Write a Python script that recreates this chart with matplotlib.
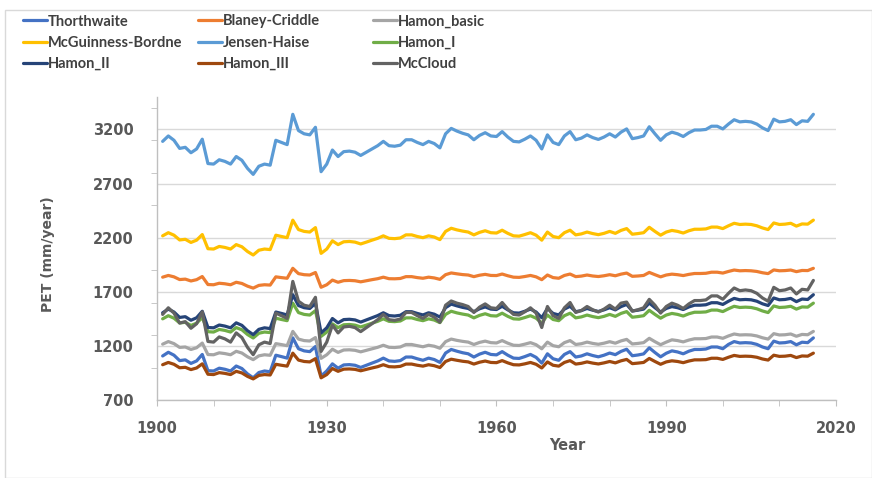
import matplotlib
matplotlib.use("Agg")
import matplotlib.pyplot as plt
from matplotlib.patches import Rectangle
from matplotlib.ticker import MultipleLocator, FixedLocator

# annual PET (mm/year), 1901-2016
years = list(range(1901, 2017))

thorthwaite = [
    1107, 1141, 1114, 1064, 1071, 1038, 1061, 1121, 971, 968,
    994, 984, 968, 1014, 991, 941, 905, 954, 968, 961,
    1114, 1101, 1087, 1274, 1174, 1154, 1147, 1194, 921, 968,
    1034, 994, 1024, 1027, 1021, 1001, 1021, 1041, 1061, 1087,
    1061, 1057, 1064, 1097, 1097, 1081, 1067, 1087, 1074, 1047,
    1134, 1167, 1151, 1137, 1127, 1097, 1124, 1141, 1121, 1117,
    1147, 1114, 1087, 1084, 1101, 1121, 1094, 1041, 1127, 1081,
    1067, 1121, 1147, 1097, 1107, 1127, 1111, 1099, 1114, 1134,
    1119, 1149, 1169, 1109, 1116, 1126, 1182, 1139, 1099, 1132,
    1154, 1144, 1127, 1151, 1167, 1167, 1171, 1190, 1190, 1174,
    1214, 1240, 1227, 1230, 1227, 1214, 1190, 1174, 1244, 1227,
    1230, 1240, 1210, 1234, 1230, 1274,
]
blaney_criddle = [
    1835, 1851, 1838, 1813, 1817, 1800, 1812, 1841, 1767, 1765,
    1779, 1774, 1765, 1788, 1777, 1752, 1734, 1759, 1765, 1762,
    1838, 1831, 1825, 1917, 1868, 1858, 1855, 1878, 1742, 1765,
    1808, 1788, 1803, 1805, 1802, 1792, 1802, 1812, 1821, 1835,
    1821, 1820, 1823, 1840, 1840, 1831, 1825, 1835, 1828, 1815,
    1858, 1874, 1866, 1859, 1855, 1840, 1853, 1861, 1851, 1850,
    1864, 1848, 1835, 1833, 1841, 1851, 1838, 1812, 1855, 1831,
    1825, 1851, 1864, 1840, 1845, 1855, 1846, 1841, 1848, 1858,
    1848, 1863, 1873, 1843, 1846, 1851, 1879, 1858, 1838, 1855,
    1863, 1858, 1850, 1861, 1869, 1869, 1871, 1881, 1881, 1873,
    1888, 1901, 1894, 1896, 1894, 1888, 1876, 1868, 1902, 1894,
    1896, 1901, 1886, 1897, 1896, 1917,
]
hamon_basic = [
    1216, 1240, 1221, 1186, 1190, 1167, 1183, 1226, 1120, 1118,
    1136, 1129, 1118, 1150, 1134, 1099, 1073, 1108, 1118, 1113,
    1221, 1212, 1202, 1334, 1263, 1249, 1245, 1277, 1085, 1118,
    1169, 1140, 1162, 1164, 1159, 1145, 1159, 1173, 1187, 1206,
    1187, 1185, 1190, 1213, 1213, 1202, 1192, 1206, 1197, 1178,
    1239, 1263, 1251, 1242, 1235, 1213, 1232, 1244, 1230, 1227,
    1249, 1225, 1206, 1204, 1216, 1230, 1211, 1173, 1235, 1202,
    1192, 1230, 1249, 1213, 1220, 1235, 1223, 1215, 1225, 1239,
    1225, 1246, 1260, 1218, 1223, 1230, 1270, 1239, 1211, 1235,
    1256, 1249, 1237, 1254, 1266, 1266, 1268, 1282, 1282, 1270,
    1292, 1310, 1301, 1303, 1301, 1292, 1275, 1263, 1313, 1301,
    1303, 1310, 1289, 1306, 1303, 1334,
]
mcguinness_bordne = [
    2217, 2246, 2223, 2179, 2185, 2156, 2177, 2229, 2098, 2095,
    2119, 2110, 2095, 2136, 2116, 2072, 2040, 2084, 2095, 2090,
    2223, 2211, 2200, 2362, 2275, 2258, 2252, 2293, 2055, 2095,
    2171, 2136, 2162, 2165, 2159, 2142, 2159, 2177, 2194, 2217,
    2194, 2191, 2197, 2226, 2226, 2211, 2200, 2217, 2206, 2182,
    2258, 2287, 2272, 2261, 2252, 2226, 2249, 2264, 2246, 2243,
    2269, 2240, 2217, 2214, 2229, 2246, 2223, 2177, 2252, 2211,
    2200, 2246, 2269, 2226, 2235, 2252, 2238, 2228, 2240, 2258,
    2240, 2267, 2284, 2232, 2238, 2246, 2296, 2258, 2223, 2252,
    2267, 2258, 2243, 2264, 2278, 2278, 2281, 2298, 2298, 2284,
    2310, 2333, 2322, 2325, 2322, 2310, 2290, 2275, 2336, 2322,
    2325, 2333, 2307, 2327, 2325, 2362,
]
jensen_haise = [
    3090, 3140, 3100, 3025, 3035, 2985, 3020, 3110, 2885, 2880,
    2920, 2905, 2880, 2950, 2915, 2840, 2785, 2860, 2880, 2870,
    3100, 3080, 3060, 3340, 3190, 3160, 3150, 3220, 2810, 2880,
    3010, 2950, 2995, 3000, 2990, 2960, 2990, 3020, 3050, 3090,
    3050, 3045, 3055, 3105, 3105, 3080, 3060, 3090, 3070, 3030,
    3160, 3210, 3185, 3165, 3150, 3105, 3145, 3170, 3140, 3135,
    3180, 3130, 3090, 3085, 3110, 3140, 3100, 3020, 3150, 3080,
    3060, 3140, 3180, 3105, 3120, 3150, 3125, 3108, 3130, 3160,
    3130, 3175, 3205, 3115, 3125, 3140, 3225, 3160, 3100, 3150,
    3175, 3160, 3135, 3170, 3195, 3195, 3200, 3230, 3230, 3205,
    3250, 3290, 3270, 3275, 3270, 3250, 3215, 3190, 3295, 3270,
    3275, 3290, 3245, 3280, 3275, 3340,
]
hamon_i = [
    1450, 1479, 1456, 1412, 1418, 1389, 1410, 1462, 1331, 1328,
    1352, 1343, 1328, 1369, 1349, 1305, 1273, 1317, 1328, 1323,
    1456, 1444, 1433, 1595, 1508, 1491, 1485, 1526, 1288, 1328,
    1404, 1369, 1395, 1398, 1392, 1375, 1392, 1410, 1427, 1450,
    1427, 1424, 1430, 1459, 1459, 1444, 1433, 1450, 1439, 1415,
    1491, 1520, 1505, 1494, 1485, 1459, 1482, 1497, 1479, 1476,
    1502, 1473, 1450, 1447, 1462, 1479, 1456, 1410, 1485, 1444,
    1433, 1479, 1502, 1459, 1468, 1485, 1471, 1461, 1473, 1491,
    1473, 1500, 1517, 1465, 1471, 1479, 1529, 1491, 1456, 1485,
    1500, 1491, 1476, 1497, 1511, 1511, 1514, 1531, 1531, 1517,
    1543, 1566, 1555, 1558, 1555, 1543, 1523, 1508, 1569, 1555,
    1558, 1566, 1540, 1560, 1558, 1595,
]
hamon_ii = [
    1506, 1540, 1513, 1463, 1470, 1437, 1460, 1520, 1370, 1367,
    1393, 1383, 1367, 1413, 1390, 1340, 1304, 1353, 1367, 1360,
    1513, 1500, 1486, 1673, 1573, 1553, 1546, 1593, 1320, 1367,
    1453, 1413, 1443, 1446, 1440, 1420, 1440, 1460, 1480, 1506,
    1480, 1476, 1483, 1516, 1516, 1500, 1486, 1506, 1493, 1466,
    1553, 1586, 1570, 1556, 1546, 1516, 1543, 1560, 1540, 1536,
    1566, 1533, 1506, 1503, 1520, 1540, 1513, 1460, 1546, 1500,
    1486, 1540, 1566, 1516, 1526, 1546, 1530, 1518, 1533, 1553,
    1533, 1563, 1583, 1523, 1530, 1540, 1596, 1553, 1513, 1546,
    1563, 1553, 1536, 1560, 1576, 1576, 1580, 1599, 1599, 1583,
    1613, 1639, 1626, 1629, 1626, 1613, 1589, 1573, 1643, 1626,
    1629, 1639, 1609, 1633, 1629, 1673,
]
hamon_iii = [
    1026, 1047, 1030, 998, 1002, 981, 996, 1034, 938, 935,
    953, 946, 935, 965, 950, 918, 895, 927, 935, 931,
    1030, 1021, 1013, 1133, 1069, 1056, 1052, 1082, 905, 935,
    991, 965, 985, 987, 983, 970, 983, 996, 1008, 1026,
    1008, 1006, 1011, 1032, 1032, 1021, 1013, 1026, 1017, 1000,
    1056, 1077, 1067, 1058, 1052, 1032, 1049, 1060, 1047, 1045,
    1064, 1043, 1026, 1024, 1034, 1047, 1030, 996, 1052, 1021,
    1013, 1047, 1064, 1032, 1039, 1052, 1041, 1033, 1043, 1056,
    1043, 1062, 1075, 1036, 1041, 1047, 1084, 1056, 1030, 1052,
    1062, 1056, 1045, 1060, 1071, 1071, 1073, 1086, 1086, 1075,
    1095, 1112, 1103, 1105, 1103, 1095, 1079, 1069, 1114, 1103,
    1105, 1112, 1092, 1107, 1105, 1133,
]
mccloud = [
    1491, 1552, 1503, 1411, 1424, 1363, 1405, 1515, 1241, 1235,
    1283, 1265, 1235, 1320, 1277, 1186, 1119, 1210, 1235, 1222,
    1503, 1479, 1454, 1796, 1613, 1576, 1564, 1649, 1149, 1235,
    1393, 1320, 1375, 1381, 1369, 1332, 1369, 1405, 1442, 1491,
    1442, 1436, 1448, 1509, 1509, 1479, 1454, 1491, 1466, 1418,
    1576, 1615, 1595, 1582, 1564, 1509, 1558, 1588, 1552, 1546,
    1601, 1540, 1491, 1485, 1515, 1552, 1503, 1370, 1564, 1479,
    1454, 1552, 1601, 1509, 1527, 1564, 1534, 1513, 1540, 1576,
    1540, 1595, 1605, 1521, 1534, 1552, 1630, 1576, 1503, 1564,
    1595, 1576, 1546, 1588, 1619, 1619, 1625, 1662, 1662, 1631,
    1686, 1735, 1710, 1717, 1710, 1686, 1643, 1613, 1741, 1710,
    1717, 1735, 1680, 1723, 1717, 1805,
]

series = [
    ("Thorthwaite", thorthwaite, "#4472C4"),
    ("Blaney-Criddle", blaney_criddle, "#ED7D31"),
    ("Hamon_basic", hamon_basic, "#A5A5A5"),
    ("McGuinness-Bordne", mcguinness_bordne, "#FFC000"),
    ("Jensen-Haise", jensen_haise, "#5B9BD5"),
    ("Hamon_I", hamon_i, "#70AD47"),
    ("Hamon_II", hamon_ii, "#264478"),
    ("Hamon_III", hamon_iii, "#9E480E"),
    ("McCloud", mccloud, "#636363"),
]
x_ticks = [1900, 1930, 1960, 1990, 2020]
y_ticks = [700, 1200, 1700, 2200, 2700, 3200]

TXT = "#595959"
LEG_FONT = ["Lato", "DejaVu Sans"]
AX_FONT = ["DejaVu Sans"]
plt.rcParams["font.family"] = LEG_FONT

fig = plt.figure(figsize=(8.72, 4.78), dpi=100)
fig.patches.append(Rectangle((5 / 872, 0.0), 1 - 5 / 872, 1 - 10 / 478,
                             transform=fig.transFigure, fill=False,
                             edgecolor="#d9d9d9", linewidth=1))
ax = fig.add_axes([157 / 872, 1 - 400 / 478, (836 - 157) / 872, (400 - 97) / 478])

handles = {}
for label, vals, color in series:
    (ln,) = ax.plot(years, vals, color=color, linewidth=2.3,
                    solid_joinstyle="round", solid_capstyle="round", label=label)
    handles[label] = ln

ax.set_xlim(1900, 2020)
ax.set_ylim(700, 3500)
ax.xaxis.set_major_locator(FixedLocator(x_ticks))
ax.xaxis.set_minor_locator(MultipleLocator(10))
ax.yaxis.set_major_locator(FixedLocator(y_ticks))
ax.yaxis.set_minor_locator(FixedLocator(list(range(700, 3501, 300))))
ax.grid(axis="y", which="major", color="#d9d9d9", linewidth=1)
ax.set_axisbelow(True)

for s in ("top", "right"):
    ax.spines[s].set_visible(False)
for s in ("left", "bottom"):
    ax.spines[s].set_color("#bfbfbf")
    ax.spines[s].set_linewidth(1)

ax.tick_params(axis="x", which="both", direction="out", length=4,
               color="#bfbfbf", pad=11)
ax.tick_params(axis="y", which="major", length=0, pad=17)
ax.tick_params(axis="y", which="minor", direction="out", length=4, color="#bfbfbf")
for t in ax.get_xticklabels() + ax.get_yticklabels():
    t.set_fontsize(10.5)
    t.set_fontweight("bold")
    t.set_color(TXT)
    t.set_family(AX_FONT)

ax.set_xlabel("Year", fontsize=10.5, fontweight="bold", color=TXT, va="center",
              family=AX_FONT)
ax.xaxis.set_label_coords((567 - 157) / 679, (400 - 445) / 303)
ax.set_ylabel("PET (mm/year)", fontsize=10, fontweight="bold", color=TXT, va="center",
              family=AX_FONT)
ax.yaxis.set_label_coords((48 - 157) / 679, 0.48)

columns = [
    ["Thorthwaite", "McGuinness-Bordne", "Hamon_II"],
    ["Blaney-Criddle", "Jensen-Haise", "Hamon_III"],
    ["Hamon_basic", "Hamon_I", "McCloud"],
]
for i, col in enumerate(columns):
    leg = fig.legend([handles[c] for c in col], col, loc="upper left",
                     bbox_to_anchor=((23 + 175 * i) / 872, 1 - 14.5 / 478),
                     frameon=False, borderpad=0, borderaxespad=0,
                     handlelength=1.65, handletextpad=0.08, labelspacing=0.5,
                     prop={"size": 10.5, "weight": "bold", "family": LEG_FONT})
    for t in leg.get_texts():
        t.set_color("#404040")

fig.savefig("out.png", dpi=100)
